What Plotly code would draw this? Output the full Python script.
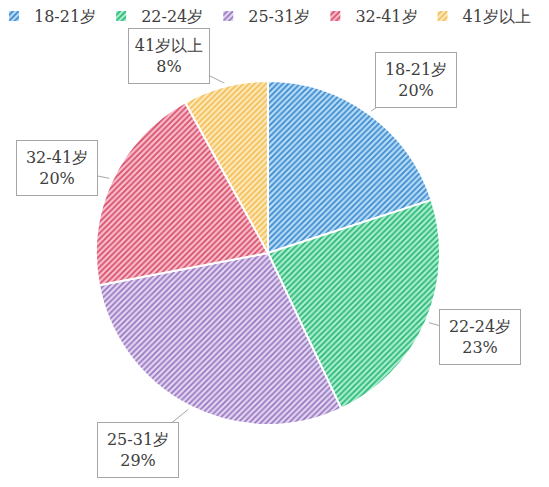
import math
import plotly.graph_objects as go

labels = ["18-21岁", "22-24岁", "25-31岁", "32-41岁", "41岁以上"]
values = [20, 23, 29, 20, 8]
pct_text = ["20%", "23%", "29%", "20%", "8%"]

fg_colors = ["#3A86CC", "#28B473", "#9575BE", "#D64A67", "#F2BC50"]
bg_colors = ["#B3DBF6", "#A6EECD", "#E2D4F1", "#F8BCCA", "#FDE8BA"]

# page offset of the figure inside the browser (body margin)
OFF = 8
# label box centres (screen pixels, layout only)
box_centres = [(416, 80), (480, 337), (138, 450), (57, 168), (169, 56)]

W, H = 541, 479
CX, CY, R = 268 - OFF, 253 - OFF, 172

SERIF = "DejaVu Serif"

fig = go.Figure()
fig.add_trace(go.Pie(
    labels=labels,
    values=values,
    sort=False,
    direction="clockwise",
    rotation=0,
    textinfo="none",
    hoverinfo="label+percent",
    marker=dict(
        colors=bg_colors,
        line=dict(color="white", width=2),
        pattern=dict(shape="/", fgcolor=fg_colors, bgcolor=bg_colors,
                     size=4, solidity=0.4, fillmode="replace"),
    ),
    domain=dict(x=[(CX - R) / W, (CX + R) / W],
                y=[1 - (CY + R) / H, 1 - (CY - R) / H]),
))

total = sum(values)
cum = 0
annotations = []
for i, v in enumerate(values):
    mid = (cum + v / 2) / total * 2 * math.pi
    cum += v
    px = CX + R * 1.02 * math.sin(mid)
    py = CY - R * 1.02 * math.cos(mid)
    bx, by = box_centres[i][0] - OFF, box_centres[i][1] - OFF
    annotations.append(dict(
        x=px / W, y=1 - py / H, xref="paper", yref="paper",
        ax=bx - px, ay=by - py,
        text=f"{labels[i]}<br>{pct_text[i]}",
        showarrow=True, arrowhead=0, arrowwidth=1, arrowcolor="#A6A6A6",
        standoff=0,
        bordercolor="#A6A6A6", borderwidth=1, borderpad=4,
        bgcolor="white", width=72, height=46,
        font=dict(family=SERIF, size=16, color="#404040"),
        align="center",
    ))

fig.update_layout(
    width=W, height=H,
    margin=dict(l=0, r=0, t=0, b=0, autoexpand=False),
    paper_bgcolor="white",
    plot_bgcolor="white",
    annotations=annotations,
    legend=dict(orientation="h", x=-14 / W, y=1 + 9 / H, xanchor="left", yanchor="top",
                font=dict(family=SERIF, size=16, color="#404040"),
                itemwidth=30, traceorder="normal"),
)

fig.write_html("out.html")
